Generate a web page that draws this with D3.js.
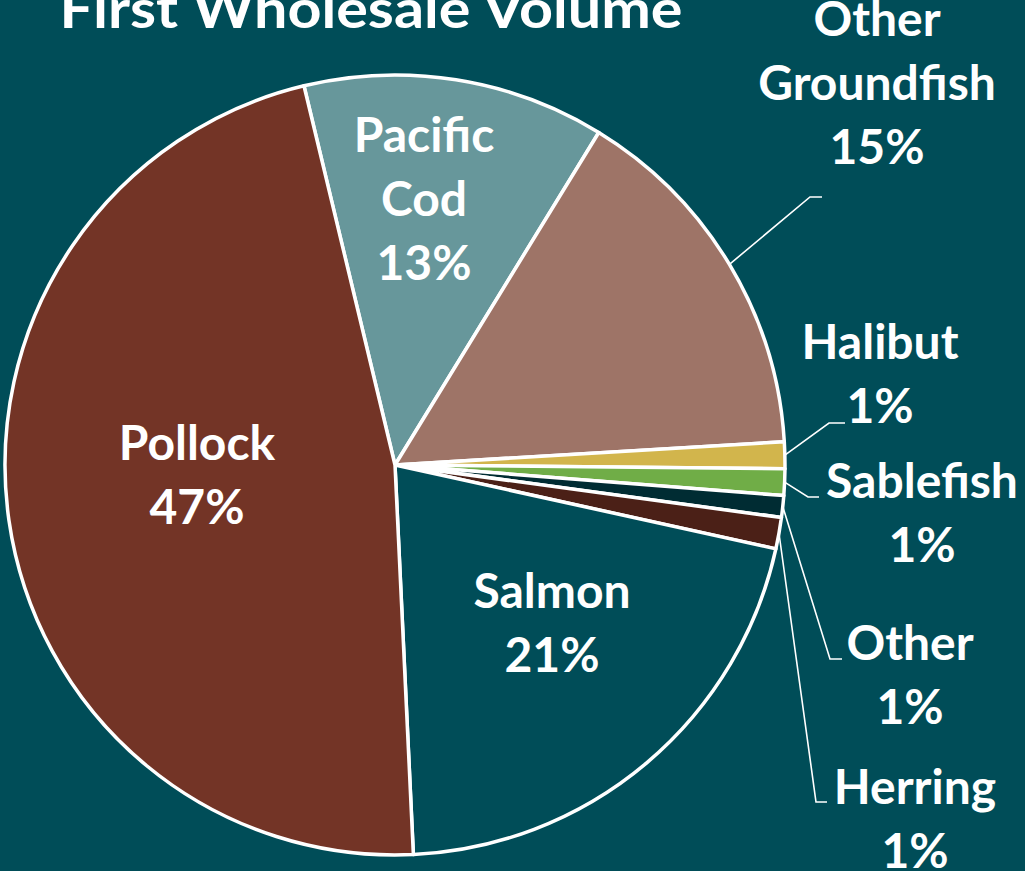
<!DOCTYPE html>
<html>
<head>
<meta charset="utf-8">
<script src="https://cdn.jsdelivr.net/npm/d3@7"></script>
<style>
  html, body { margin: 0; padding: 0; background: #004d58; overflow: hidden; }
  svg { display: block; }
  text { font-family: Lato, "Open Sans", sans-serif; font-weight: bold; fill: #fff; }
</style>
</head>
<body>
<script>
(function () {
    var categories = ['Pacific Cod', 'Other Groundfish', 'Halibut', 'Sablefish', 'Other', 'Herring', 'Salmon', 'Pollock'],
        shares = [12.5, 15.3, 1.1, 1.1, 0.9, 1.3, 20.8, 47.0],
        labels = ['13%', '15%', '1%', '1%', '1%', '1%', '21%', '47%'],
        colors = ['#67979b', '#9e7467', '#d2b54c', '#70ad47', '#002c33', '#4b2017', '#004d58', '#733426'];

    var width = 1025, height = 871,
        cx = 395, cy = 465, radius = 390,
        lineH = 64;

    // where each label block sits (name lines + percent), and leader elbow if any
    var layout = {
        'Pacific Cod': { x: 424, y: 152, lines: ['Pacific', 'Cod'] },
        'Other Groundfish': { x: 877, y: 36, lines: ['Other', 'Groundfish'], elbow: [810, 197], end: 822 },
        'Halibut': { x: 880, y: 359, lines: ['Halibut'], elbow: [829, 423], end: 845 },
        'Sablefish': { x: 922, y: 498, lines: ['Sablefish'], elbow: [808, 497], end: 819 },
        'Other': { x: 910, y: 660, lines: ['Other'], elbow: [830, 659], end: 842 },
        'Herring': { x: 915, y: 804, lines: ['Herring'], elbow: [816, 802], end: 827 },
        'Salmon': { x: 552, y: 608, lines: ['Salmon'] },
        'Pollock': { x: 197, y: 460, lines: ['Pollock'] }
    };

    var svg = d3.select('body').append('svg')
        .attr('width', width)
        .attr('height', height);

    svg.append('rect')
        .attr('width', width)
        .attr('height', height)
        .attr('fill', '#004d58');

    svg.append('text')
        .attr('x', 371)
        .attr('y', 28)
        .attr('text-anchor', 'middle')
        .attr('textLength', 623)
        .attr('lengthAdjust', 'spacingAndGlyphs')
        .style('font-size', '54px')
        .text('First Wholesale Volume');

    var pie = d3.pie()
        .sort(null)
        .startAngle(-13.5 * Math.PI / 180)
        .endAngle(-13.5 * Math.PI / 180 + 2 * Math.PI)
        .value(function (d) { return d; });

    var arc = d3.arc().innerRadius(0).outerRadius(radius);
    var arcs = pie(shares);

    var g = svg.append('g').attr('transform', 'translate(' + cx + ',' + cy + ')');

    g.selectAll('path')
        .data(arcs)
        .enter().append('path')
        .attr('d', arc)
        .attr('fill', function (d, i) { return colors[i]; })
        .attr('stroke', '#fff')
        .attr('stroke-width', 3.5)
        .attr('stroke-linejoin', 'round');

    // leader lines
    arcs.forEach(function (d, i) {
        var l = layout[categories[i]];
        if (!l.elbow) return;
        var a = (d.startAngle + d.endAngle) / 2,
            sx = cx + radius * Math.sin(a),
            sy = cy - radius * Math.cos(a);
        svg.append('polyline')
            .attr('points', [[sx, sy], l.elbow, [l.end, l.elbow[1]]].map(function (p) { return p.join(','); }).join(' '))
            .attr('fill', 'none')
            .attr('stroke', '#fff')
            .attr('stroke-width', 1.6);
    });

    // labels
    categories.forEach(function (c, i) {
        var l = layout[c];
        var t = svg.append('text')
            .attr('text-anchor', 'middle')
            .style('font-size', '48px');
        l.lines.concat([labels[i]]).forEach(function (s, k) {
            t.append('tspan')
                .attr('x', l.x)
                .attr('y', l.y + k * lineH)
                .text(s);
        });
    });
}());
</script>
</body>
</html>
